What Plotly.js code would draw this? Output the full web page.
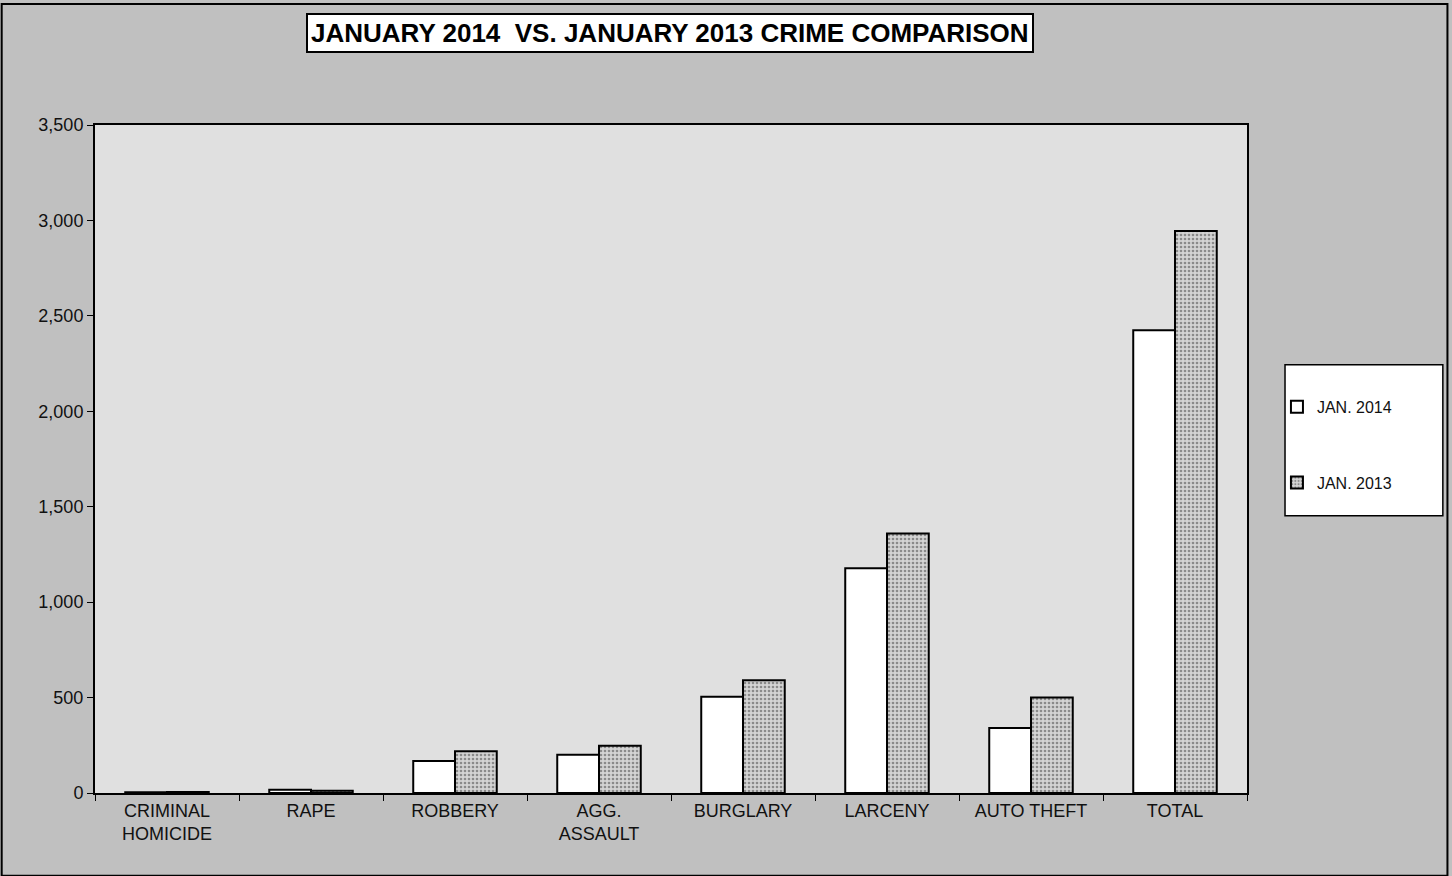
<!DOCTYPE html>
<html>
<head>
<meta charset="utf-8">
<script src="https://cdn.plot.ly/plotly-3.0.1.min.js"></script>
<style>
html,body{margin:0;padding:0;background:#c0c0c0;}
#chart{width:1452px;height:876px;}
</style>
</head>
<body>
<div id="chart"></div>
<script>
const categories = ["CRIMINAL<br>HOMICIDE", "RAPE", "ROBBERY", "AGG.<br>ASSAULT", "BURGLARY", "LARCENY", "AUTO THEFT", "TOTAL"];
const jan2014 = [4, 17, 168, 201, 504, 1178, 341, 2425];
const jan2013 = [5, 12, 219, 248, 591, 1360, 500, 2945];
const seriesNames = ["JAN. 2014", "JAN. 2013"];
const titleText = "JANUARY 2014&nbsp; VS. JANUARY 2013 CRIME COMPARISON";

const font = "Liberation Sans, Arial, sans-serif";

const traces = [
  {
    type: "bar", name: seriesNames[0], x: categories, y: jan2014,
    marker: {color: "#ffffff", line: {color: "#000000", width: 2}},
    legendgroup: "a"
  },
  {
    type: "bar", name: seriesNames[1], x: categories, y: jan2013,
    marker: {color: "#c2c2c2", line: {color: "#000000", width: 2},
             pattern: {shape: ".", fgcolor: "#8a8a8a", bgcolor: "#d4d4d4", size: 4, solidity: 0.35}},
    legendgroup: "b"
  }
];

const layout = {
  width: 1452, height: 876,
  paper_bgcolor: "#c0c0c0",
  plot_bgcolor: "#e0e0e0",
  margin: {l: 95, r: 205, t: 125, b: 83},
  font: {family: font, color: "#111111", size: 16},
  bargap: 0.42, bargroupgap: 0,
  barmode: "group",
  showlegend: true,
  legend: {
    x: 1.026, xanchor: "left", y: 0.6035, yanchor: "top",
    bgcolor: "rgba(0,0,0,0)", borderwidth: 0,
    font: {family: font, size: 16, color: "#111111"},
    tracegroupgap: 52, itemwidth: 30
  },
  xaxis: {
    type: "category",
    showline: true, linecolor: "#000000", linewidth: 2, mirror: true,
    ticks: "outside", ticklen: 6, tickcolor: "#000000", tickwidth: 1,
    tickson: "boundaries",
    tickfont: {family: font, size: 18, color: "#111111"},
    showgrid: false, zeroline: false, fixedrange: true
  },
  yaxis: {
    range: [0, 3500], dtick: 500, tickformat: ",d",
    showline: true, linecolor: "#000000", linewidth: 2, mirror: true,
    ticks: "outside", ticklen: 6, tickcolor: "#000000", tickwidth: 1,
    tickfont: {family: font, size: 18, color: "#111111"},
    showgrid: false, zeroline: false, fixedrange: true
  },
  shapes: [
    {type: "rect", xref: "paper", yref: "paper", x0: 1.033, x1: 1.170, y0: 0.415, y1: 0.641,
     fillcolor: "#ffffff", line: {color: "#000000", width: 1.5}, layer: "below"},
    {type: "rect", xref: "paper", yref: "paper", x0: -0.081, x1: 1.174, y0: -0.124, y1: 1.181,
     fillcolor: "rgba(0,0,0,0)", line: {color: "#000000", width: 2}, layer: "below"}
  ],
  annotations: [
    {text: "<b>" + titleText + "</b>", xref: "paper", yref: "paper",
     x: 0.499, y: 1.137, xanchor: "center", yanchor: "middle", showarrow: false,
     font: {family: font, size: 26, color: "#000000"},
     bgcolor: "#ffffff", bordercolor: "#000000", borderwidth: 2, borderpad: 3}
  ]
};

Plotly.newPlot("chart", traces, layout, {displayModeBar: false, staticPlot: true});
</script>
</body>
</html>
